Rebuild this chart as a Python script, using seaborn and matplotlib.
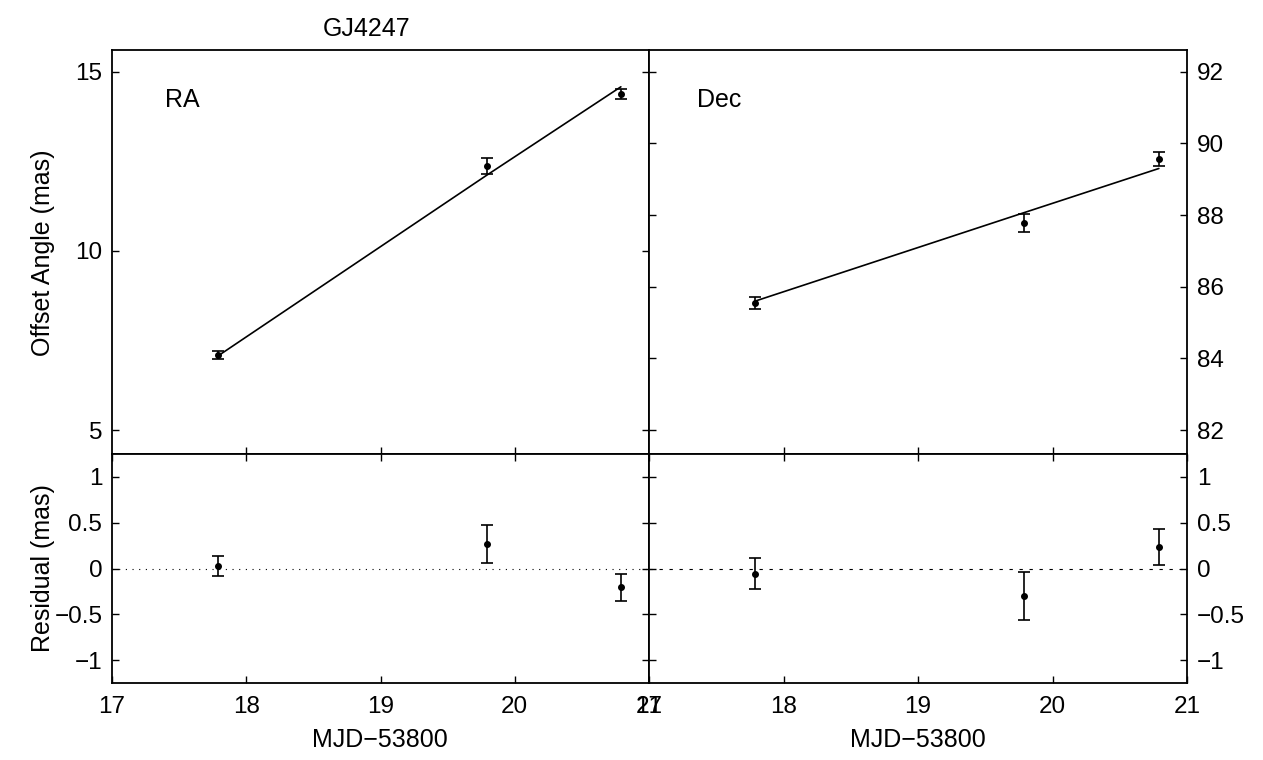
import matplotlib
matplotlib.use("Agg")
import matplotlib.pyplot as plt
import seaborn as sns
import numpy as np
import pandas as pd

# ---- data ----
mjd = [17.79, 19.79, 20.79]
ra_obs = [7.09, 12.37, 14.38]
ra_err = [0.11, 0.21, 0.15]
ra_fit = [7.07, 12.11, 14.58]
ra_res = [0.025, 0.27, -0.205]
dec_obs = [85.55, 87.78, 89.56]
dec_err = [0.17, 0.26, 0.20]
dec_fit = [85.60, 88.07, 89.30]
dec_res = [-0.058, -0.30, 0.236]

x_ticks = [17, 18, 19, 20, 21]
x_ticklabels = ["17", "18", "19", "20", "21"]
ra_ticks = [5, 10, 15]
dec_ticks = [82, 84, 86, 88, 90, 92]
res_ticks = [-1, -0.5, 0, 0.5, 1]
res_ticklabels = ["\u22121", "\u22120.5", "0", "0.5", "1"]

sns.set_theme(style="ticks")
plt.rcParams["font.family"] = ["Liberation Sans", "DejaVu Sans"]
plt.rcParams["axes.unicode_minus"] = True
plt.rcParams["text.color"] = "black"
plt.rcParams["axes.labelcolor"] = "black"
plt.rcParams["xtick.color"] = "black"
plt.rcParams["ytick.color"] = "black"
FS = 18
FT = 17.5

fig = plt.figure(figsize=(12.63, 7.6), dpi=100)
ax_ra = fig.add_axes([0.0887, 0.4026, 0.4252, 0.5322])
ax_dec = fig.add_axes([0.5139, 0.4026, 0.4260, 0.5322])
ax_rr = fig.add_axes([0.0887, 0.1013, 0.4252, 0.3013])
ax_dr = fig.add_axes([0.5139, 0.1013, 0.4260, 0.3013])

def style(ax):
    for s in ax.spines.values():
        s.set_linewidth(1.3)
        s.set_color("black")
    ax.set_facecolor("white")
    ax.tick_params(direction="in", length=5, width=1, colors="black",
                   labelcolor="black", labelsize=FT, pad=7)

df_ra = pd.DataFrame({"mjd": mjd, "obs": ra_obs, "fit": ra_fit, "err": ra_err, "res": ra_res})
df_dec = pd.DataFrame({"mjd": mjd, "obs": dec_obs, "fit": dec_fit, "err": dec_err, "res": dec_res})

for ax, df, yl, yt in [(ax_ra, df_ra, (4.33, 15.62), ra_ticks),
                       (ax_dec, df_dec, (81.33, 92.62), dec_ticks)]:
    style(ax)
    sns.lineplot(data=df, x="mjd", y="fit", ax=ax, color="black", lw=1.2,
                 legend=False)
    ax.errorbar(df["mjd"], df["obs"], yerr=df["err"], fmt="o", color="black",
                ms=4, capsize=4, elinewidth=1.2, capthick=1.2)
    ax.set_xlim(17, 21)
    ax.set_ylim(*yl)
    ax.set_xticks([18, 19, 20])
    ax.set_yticks(yt)
    ax.set_yticklabels([str(t) for t in yt])
    ax.set_xlabel("")
    ax.set_ylabel("")
    ax.tick_params(axis="x", bottom=True, top=False, labelbottom=False)
    ax.tick_params(axis="y", left=True, right=True)

ax_ra.tick_params(axis="y", labelleft=True, labelright=False)
ax_dec.tick_params(axis="y", labelleft=False, labelright=True)

ax_ra.text(0.099, 0.875, "RA", transform=ax_ra.transAxes, fontsize=FS,
           va="center", ha="left", color="black")
ax_dec.text(0.089, 0.875, "Dec", transform=ax_dec.transAxes, fontsize=FS,
            va="center", ha="left", color="black")

for ax, df, ls in [(ax_rr, df_ra, (0, (1, 5))), (ax_dr, df_dec, (0, (3, 6)))]:
    style(ax)
    ax.axhline(0, color="black", lw=0.8, ls=ls)
    ax.errorbar(df["mjd"], df["res"], yerr=df["err"], fmt="o", color="black",
                ms=4, capsize=4, elinewidth=1.2, capthick=1.2)
    ax.set_xlim(17, 21)
    ax.set_ylim(-1.25, 1.25)
    ax.set_xticks(x_ticks)
    ax.set_xticklabels(x_ticklabels)
    ax.set_yticks(res_ticks)
    ax.set_yticklabels(res_ticklabels)
    ax.tick_params(axis="x", bottom=True, top=True, pad=9)
    ax.tick_params(axis="y", left=True, right=True)
    ax.set_xlabel("")

ax_rr.tick_params(axis="y", labelleft=True, labelright=False)
ax_dr.tick_params(axis="y", labelleft=False, labelright=True)

fig.text(0.301, 0.026, "MJD\u221253800", ha="center", va="center", fontsize=FS, color="black")
fig.text(0.727, 0.026, "MJD\u221253800", ha="center", va="center", fontsize=FS, color="black")
fig.text(0.034, 0.668, "Offset Angle (mas)", rotation=90, ha="center",
         va="center", fontsize=FS, color="black")
fig.text(0.034, 0.252, "Residual (mas)", rotation=90, ha="center",
         va="center", fontsize=FS, color="black")
fig.text(0.29, 0.962, "GJ4247", ha="center", va="center", fontsize=FS, color="black")

fig.savefig("out.png", dpi=100, facecolor="white")
